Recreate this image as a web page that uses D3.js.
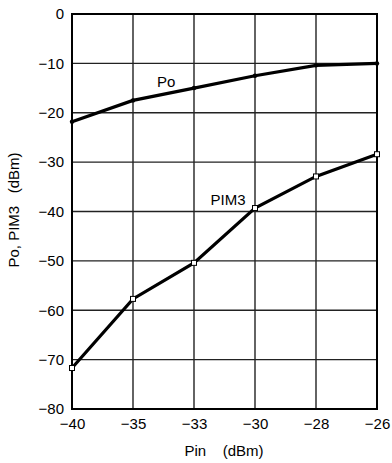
<!DOCTYPE html>
<html>
<head>
<meta charset="utf-8">
<script src="https://cdn.jsdelivr.net/npm/d3@7"></script>
<style>
  body { margin: 0; background: #fff; }
  svg { display: block; font-family: "Liberation Sans", Arial, Helvetica, sans-serif; }
</style>
</head>
<body>
<svg id="chart" width="392" height="463"></svg>
<script>
// Data
const pin = ["-40", "-35", "-33", "-30", "-28", "-26"];
const po = [-21.8, -17.5, -15.0, -12.5, -10.4, -10.0];
const pim3 = [-71.7, -57.7, -50.4, -39.3, -32.9, -28.4];
const yTicks = [0, -10, -20, -30, -40, -50, -60, -70, -80];

const svg = d3.select('#chart');
const plotL = 72, plotR = 377, plotT = 14, plotB = 409;

const x = d3.scalePoint().domain(pin).range([plotL, plotR]).padding(0);
const y = d3.scaleLinear().domain([-80, 0]).range([plotB, plotT]);

const fmt = (s) => String(s).replace('-', '\u2212');

// grid
svg.append('g').selectAll('line')
    .data(pin)
  .enter().append('line')
    .attr('x1', d => x(d)).attr('x2', d => x(d))
    .attr('y1', plotT).attr('y2', plotB)
    .attr('stroke', '#222').attr('stroke-width', 1.4);

svg.append('g').selectAll('line')
    .data(yTicks)
  .enter().append('line')
    .attr('x1', plotL).attr('x2', plotR)
    .attr('y1', d => y(d)).attr('y2', d => y(d))
    .attr('stroke', '#222').attr('stroke-width', 1.4);

// frame
svg.append('rect')
    .attr('x', plotL).attr('y', plotT)
    .attr('width', plotR - plotL).attr('height', plotB - plotT)
    .attr('fill', 'none').attr('stroke', '#000').attr('stroke-width', 2);

// axes text
const yAxis = d3.axisLeft(y).tickValues(yTicks).tickSize(0).tickPadding(8).tickFormat(fmt);
svg.append('g').attr('transform', 'translate(' + plotL + ',0)').call(yAxis)
    .call(g => g.select('.domain').remove())
    .selectAll('text').attr('font-size', 15).attr('fill', '#000')
    .attr('font-family', '"Liberation Sans", Arial, sans-serif');

const xAxis = d3.axisBottom(x).tickSize(0).tickPadding(9).tickFormat(fmt);
svg.append('g').attr('transform', 'translate(0,' + plotB + ')').call(xAxis)
    .call(g => g.select('.domain').remove())
    .selectAll('text').attr('font-size', 15).attr('fill', '#000')
    .attr('font-family', '"Liberation Sans", Arial, sans-serif');

// lines
const line = d3.line()
    .x((d, i) => x(pin[i]))
    .y(d => y(d));

svg.append('path').datum(po)
    .attr('d', line).attr('fill', 'none')
    .attr('stroke', '#000').attr('stroke-width', 3.2);

svg.append('path').datum(pim3)
    .attr('d', line).attr('fill', 'none')
    .attr('stroke', '#000').attr('stroke-width', 3.2);

svg.append('g').selectAll('circle')
    .data(po)
  .enter().append('circle')
    .attr('cx', (d, i) => x(pin[i])).attr('cy', d => y(d))
    .attr('r', 2.2).attr('fill', '#000');

svg.append('g').selectAll('rect')
    .data(pim3)
  .enter().append('rect')
    .attr('x', (d, i) => x(pin[i]) - 2.5).attr('y', d => y(d) - 2.5)
    .attr('width', 5).attr('height', 5)
    .attr('fill', '#fff').attr('stroke', '#000').attr('stroke-width', 1);

// labels
svg.append('text').attr('x', 157).attr('y', 86.5)
    .attr('font-size', 15).text('Po');
svg.append('text').attr('x', 210.5).attr('y', 204.5)
    .attr('font-size', 15).text('PIM3');

svg.append('text')
    .attr('transform', 'translate(19,210) rotate(-90)')
    .attr('text-anchor', 'middle').attr('font-size', 15)
    .style('white-space', 'pre')
    .text('Po, PIM3   (dBm)');

svg.append('text')
    .attr('x', 224).attr('y', 456)
    .attr('text-anchor', 'middle').attr('font-size', 15)
    .style('white-space', 'pre')
    .text('Pin    (dBm)');
</script>
</body>
</html>
